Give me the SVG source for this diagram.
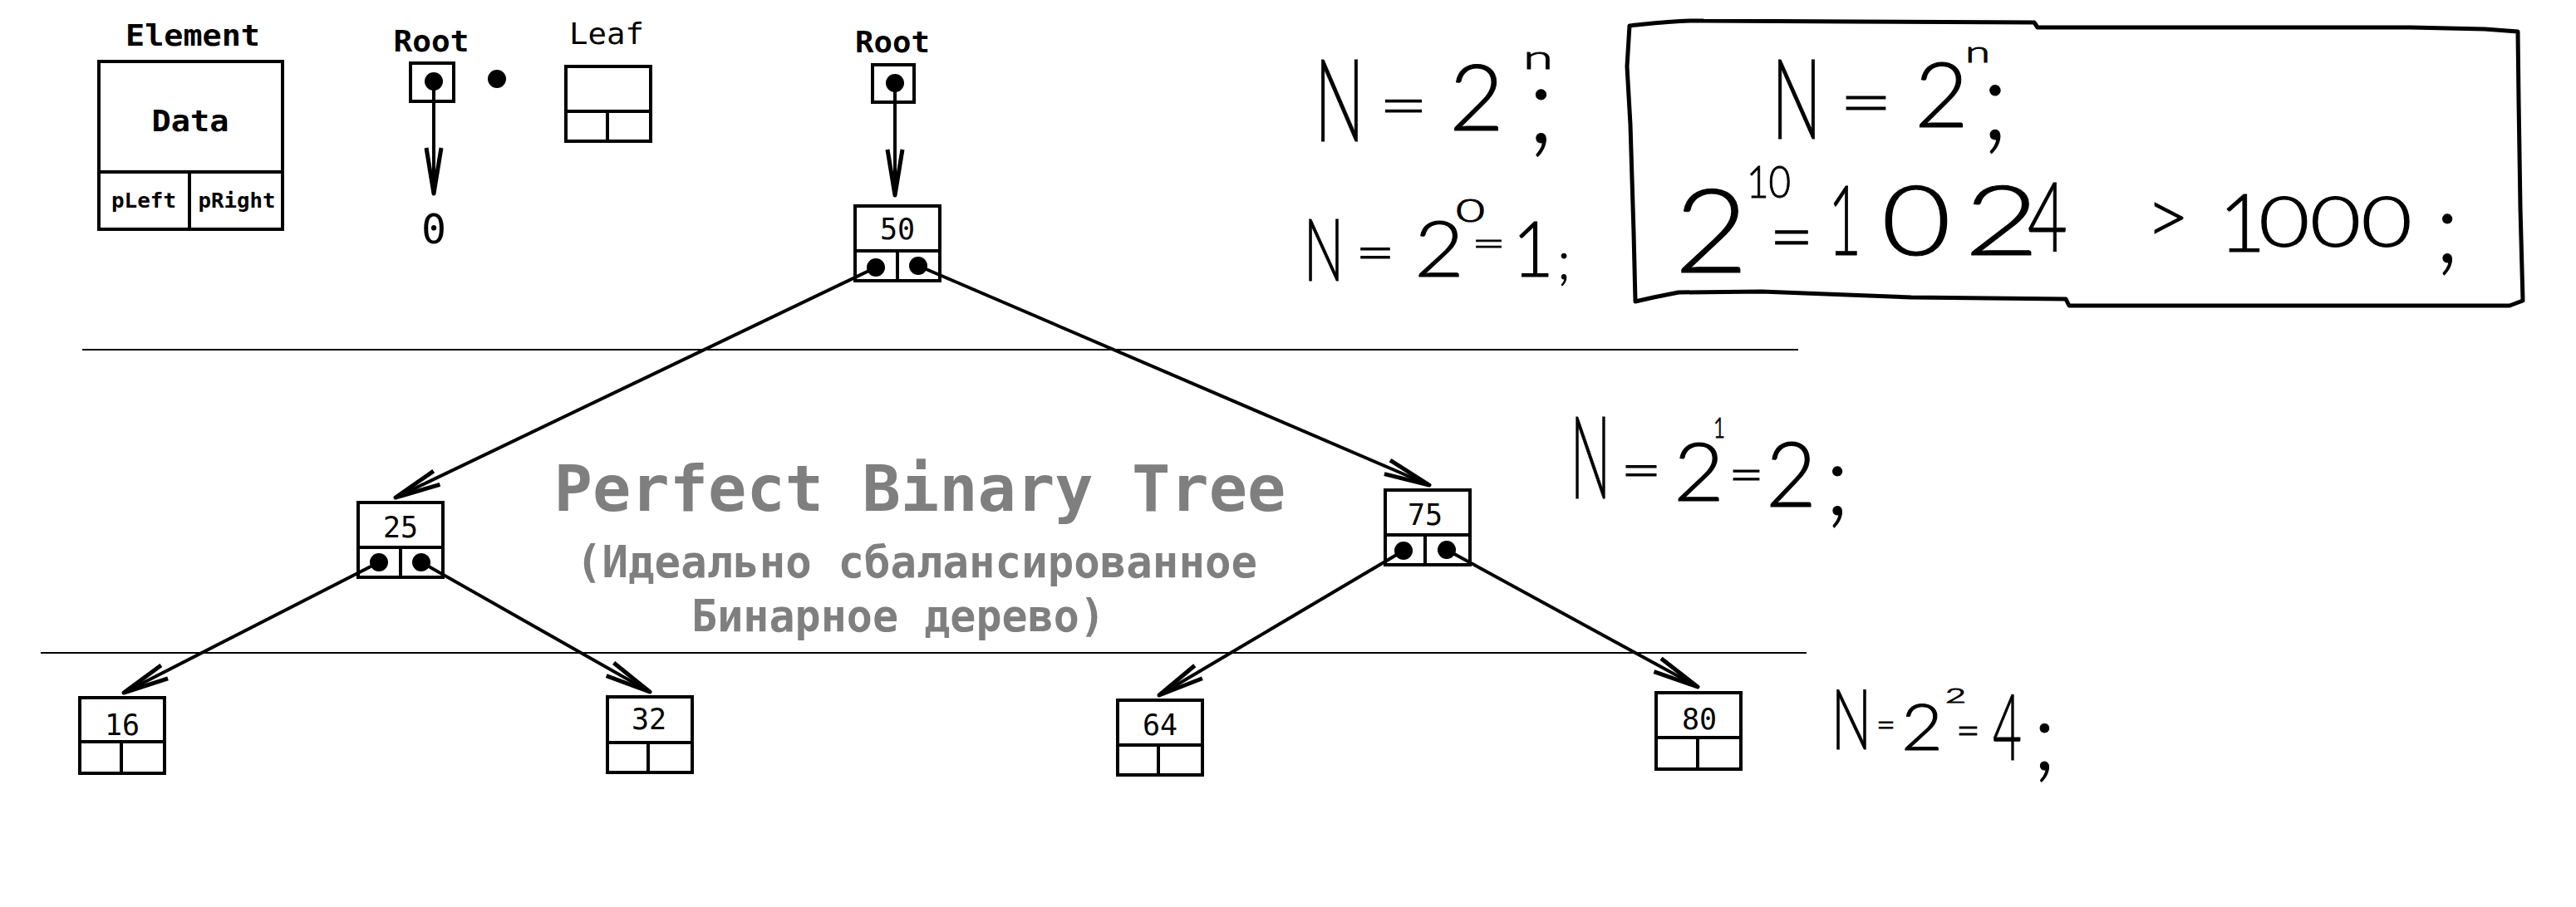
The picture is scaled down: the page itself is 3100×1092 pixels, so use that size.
<svg xmlns="http://www.w3.org/2000/svg" width="3100" height="1092" viewBox="0 0 3100 1092">
<style>
.bx{fill:#fff;stroke:#000;stroke-width:4}
.ln{fill:none;stroke:#000;stroke-width:4}
.sep{fill:none;stroke:#000;stroke-width:2}
.dot{fill:#000}
.lbl{font-family:"DejaVu Sans Mono","Liberation Mono",monospace;font-weight:bold;font-size:35px;text-anchor:middle;fill:#000}
.reg{font-family:"DejaVu Sans Mono","Liberation Mono",monospace;font-size:35px;text-anchor:middle;fill:#000}
.num{font-family:"DejaVu Sans Mono","Liberation Mono",monospace;font-size:35px;text-anchor:middle;fill:#000}
.title{font-family:"DejaVu Sans Mono","Liberation Mono",monospace;font-weight:bold;text-anchor:middle;fill:#7f7f7f}
.hand{font-family:Lato,"Liberation Sans",sans-serif;font-weight:300;fill:#000;stroke:#000;stroke-width:1}
</style>
<defs>
<marker id="ah" markerUnits="userSpaceOnUse" markerWidth="70" markerHeight="30" viewBox="-60 -15 70 30" refX="0" refY="0" orient="auto" overflow="visible">
<path d="M-55,-9 L0,0 L-55,9" fill="none" stroke="#000" stroke-width="5" stroke-linejoin="round"/>
</marker>
</defs>
<rect width="3100" height="1092" fill="#fff"/>

<g id="separators">
<line class="sep" x1="99" y1="421" x2="2164" y2="421"/>
<line class="sep" x1="49" y1="786" x2="2174" y2="786"/>
</g>

<g id="legend-element">
<text class="lbl" x="232" y="55" textLength="162" lengthAdjust="spacingAndGlyphs">Element</text>
<rect class="bx" x="119" y="74" width="221" height="202"/>
<line class="ln" x1="119" y1="207" x2="340" y2="207"/>
<line class="ln" x1="228" y1="207" x2="228" y2="276"/>
<text class="lbl" x="229" y="158" textLength="93" lengthAdjust="spacingAndGlyphs">Data</text>
<text class="lbl" x="173" y="250" style="font-size:25px" textLength="78" lengthAdjust="spacingAndGlyphs">pLeft</text>
<text class="lbl" x="285" y="250" style="font-size:25px" textLength="93" lengthAdjust="spacingAndGlyphs">pRight</text>
</g>

<g id="legend-root">
<text class="lbl" x="519" y="62" textLength="91" lengthAdjust="spacingAndGlyphs">Root</text>
<rect class="bx" x="494" y="76" width="52" height="46"/>
<circle class="dot" cx="522" cy="98" r="11"/>
<text class="reg" x="522" y="293" style="font-size:50px">0</text>
</g>

<g id="legend-dot">
<circle class="dot" cx="598" cy="95" r="11"/>
</g>

<g id="legend-leaf">
<text class="reg" x="730" y="53" textLength="90" lengthAdjust="spacingAndGlyphs">Leaf</text>
<rect class="bx" x="681" y="80" width="102" height="90"/>
<line class="ln" x1="681" y1="134" x2="783" y2="134"/>
<line class="ln" x1="731" y1="134" x2="731" y2="170"/>
</g>

<g id="root">
<text class="lbl" x="1074" y="63" textLength="90" lengthAdjust="spacingAndGlyphs">Root</text>
<rect class="bx" x="1050" y="78" width="50" height="45"/>
<circle class="dot" cx="1077" cy="100" r="11"/>
</g>

<g id="node-50">
<rect class="bx" x="1029" y="248" width="102" height="90"/>
<line class="ln" x1="1029" y1="302" x2="1131" y2="302"/>
<line class="ln" x1="1080" y1="302" x2="1080" y2="338"/>
<text class="num" x="1080" y="288">50</text>
<circle class="dot" cx="1054" cy="322" r="11"/>
<circle class="dot" cx="1105" cy="320" r="11"/>
</g>

<g id="node-25">
<rect class="bx" x="431" y="605" width="102" height="90"/>
<line class="ln" x1="431" y1="659" x2="533" y2="659"/>
<line class="ln" x1="482" y1="659" x2="482" y2="695"/>
<text class="num" x="482" y="647">25</text>
<circle class="dot" cx="456" cy="677" r="11"/>
<circle class="dot" cx="507" cy="677" r="11"/>
</g>

<g id="node-75">
<rect class="bx" x="1667" y="590" width="102" height="90"/>
<line class="ln" x1="1667" y1="644" x2="1769" y2="644"/>
<line class="ln" x1="1715" y1="644" x2="1715" y2="680"/>
<text class="num" x="1715" y="632">75</text>
<circle class="dot" cx="1689" cy="663" r="11"/>
<circle class="dot" cx="1741" cy="662" r="11"/>
</g>

<g id="node-16">
<rect class="bx" x="96" y="840" width="102" height="91"/>
<line class="ln" x1="96" y1="893" x2="198" y2="893"/>
<line class="ln" x1="146" y1="893" x2="146" y2="931"/>
<text class="num" x="147" y="885">16</text>
</g>

<g id="node-32">
<rect class="bx" x="731" y="839" width="102" height="91"/>
<line class="ln" x1="731" y1="894" x2="833" y2="894"/>
<line class="ln" x1="780" y1="894" x2="780" y2="930"/>
<text class="num" x="781" y="878">32</text>
</g>

<g id="node-64">
<rect class="bx" x="1345" y="843" width="102" height="90"/>
<line class="ln" x1="1345" y1="897" x2="1447" y2="897"/>
<line class="ln" x1="1394" y1="897" x2="1394" y2="933"/>
<text class="num" x="1396" y="885">64</text>
</g>

<g id="node-80">
<rect class="bx" x="1993" y="834" width="102" height="92"/>
<line class="ln" x1="1993" y1="888" x2="2095" y2="888"/>
<line class="ln" x1="2043" y1="888" x2="2043" y2="926"/>
<text class="num" x="2045" y="878">80</text>
</g>

<g id="connectors">
<line class="ln" x1="522" y1="98" x2="522" y2="233" marker-end="url(#ah)"/>
<line class="ln" x1="1077" y1="100" x2="1077" y2="235" marker-end="url(#ah)"/>
<line class="ln" x1="1054" y1="322" x2="476" y2="599" marker-end="url(#ah)"/>
<line class="ln" x1="1105" y1="320" x2="1720" y2="584" marker-end="url(#ah)"/>
<line class="ln" x1="456" y1="677" x2="149" y2="834" marker-end="url(#ah)"/>
<line class="ln" x1="507" y1="677" x2="782" y2="833" marker-end="url(#ah)"/>
<line class="ln" x1="1689" y1="663" x2="1395" y2="837" marker-end="url(#ah)"/>
<line class="ln" x1="1741" y1="662" x2="2043" y2="827" marker-end="url(#ah)"/>
</g>

<g id="title">
<text class="title" x="1107" y="615" style="font-size:77px">Perfect Binary Tree</text>
<text class="title" x="1103" y="695" style="font-size:54px" textLength="820" lengthAdjust="spacingAndGlyphs">(Идеально сбалансированное</text>
<text class="title" x="1081" y="760" style="font-size:54px" textLength="498" lengthAdjust="spacingAndGlyphs">Бинарное дерево)</text>
</g>

<g id="formula-n1">
<text class="hand"><tspan x="1582" y="170" font-size="139" textLength="60" lengthAdjust="spacingAndGlyphs">N</tspan><tspan x="1659" y="153" font-size="75" textLength="60" lengthAdjust="spacingAndGlyphs">=</tspan><tspan x="1744" y="157" font-size="110" textLength="66" lengthAdjust="spacingAndGlyphs">2</tspan><tspan x="1833" y="83" font-size="40" textLength="36" lengthAdjust="spacingAndGlyphs">n</tspan><tspan x="1838" y="172" font-size="132">;</tspan></text>
</g>

<g id="formula-n0">
<text class="hand"><tspan x="1569" y="338" font-size="104" textLength="48" lengthAdjust="spacingAndGlyphs">N</tspan><tspan x="1631" y="327" font-size="65" textLength="48" lengthAdjust="spacingAndGlyphs">=</tspan><tspan x="1702" y="333" font-size="92" textLength="60" lengthAdjust="spacingAndGlyphs">2</tspan><tspan x="1752" y="267" font-size="38" textLength="35" lengthAdjust="spacingAndGlyphs">0</tspan><tspan x="1771" y="309" font-size="48" textLength="41" lengthAdjust="spacingAndGlyphs">=</tspan><tspan x="1820" y="333" font-size="92" textLength="50" lengthAdjust="spacingAndGlyphs">1</tspan><tspan x="1874" y="336" font-size="64">;</tspan></text>
</g>

<g id="formula-box">
<path d="M1961,31 C1990,28 2020,24 2050,25 L2230,26 L2448,27 L2452,33 L2900,33 L2990,35 L3030,38 L3031,120 L3033,250 L3036,362 L3020,368 L2490,368 L2486,360 L2300,358 L2120,351 L2020,352 L1990,358 L1968,363 L1966,280 L1962,150 L1958,80 Z" fill="none" stroke="#000" stroke-width="5" stroke-linejoin="round"/>
<text class="hand"><tspan x="2132" y="167" font-size="135" textLength="60" lengthAdjust="spacingAndGlyphs">N</tspan><tspan x="2213" y="152" font-size="80" textLength="65" lengthAdjust="spacingAndGlyphs">=</tspan><tspan x="2304" y="153" font-size="108" textLength="65" lengthAdjust="spacingAndGlyphs">2</tspan><tspan x="2365" y="75" font-size="36" textLength="30" lengthAdjust="spacingAndGlyphs">n</tspan><tspan x="2384" y="168" font-size="135">;</tspan></text>
<text class="hand"><tspan x="2015" y="328" font-size="140" textLength="89" lengthAdjust="spacingAndGlyphs">2</tspan><tspan x="2102" y="238" font-size="53" textLength="53" lengthAdjust="spacingAndGlyphs">10</tspan><tspan x="2129" y="315" font-size="85" textLength="54" lengthAdjust="spacingAndGlyphs">=</tspan><tspan x="2200" y="307" font-size="117" textLength="40" lengthAdjust="spacingAndGlyphs">1</tspan><tspan x="2264" y="307" font-size="117" textLength="84" lengthAdjust="spacingAndGlyphs">0</tspan><tspan x="2364" y="307" font-size="117" textLength="90" lengthAdjust="spacingAndGlyphs">2</tspan><tspan x="2440" y="303" font-size="117" textLength="48" lengthAdjust="spacingAndGlyphs">4</tspan><tspan x="2558" y="293" font-size="90"> &gt;</tspan><tspan x="2644" y="303" font-size="97"> 1</tspan><tspan x="2718" y="297" font-size="84" textLength="185" lengthAdjust="spacingAndGlyphs">000</tspan><tspan x="2930" y="316" font-size="121">;</tspan></text>
</g>

<g id="formula-n2">
<text class="hand"><tspan x="1890" y="600" font-size="139" textLength="48" lengthAdjust="spacingAndGlyphs">N</tspan><tspan x="1950" y="589" font-size="65" textLength="50" lengthAdjust="spacingAndGlyphs">=</tspan><tspan x="2014" y="603" font-size="97" textLength="61" lengthAdjust="spacingAndGlyphs">2</tspan><tspan x="2062" y="527" font-size="33" textLength="14" lengthAdjust="spacingAndGlyphs">1</tspan><tspan x="2080" y="593" font-size="62" textLength="43" lengthAdjust="spacingAndGlyphs">=</tspan><tspan x="2125" y="610" font-size="108" textLength="61" lengthAdjust="spacingAndGlyphs">2</tspan><tspan x="2196" y="620" font-size="121">;</tspan></text>
</g>

<g id="formula-n4">
<text class="hand"><tspan x="2204" y="902" font-size="100" textLength="48" lengthAdjust="spacingAndGlyphs">N</tspan><tspan x="2258" y="887" font-size="42" textLength="23" lengthAdjust="spacingAndGlyphs">=</tspan><tspan x="2288" y="903" font-size="76" textLength="50" lengthAdjust="spacingAndGlyphs">2</tspan><tspan x="2341" y="846" font-size="24" textLength="25" lengthAdjust="spacingAndGlyphs">2</tspan><tspan x="2354" y="897" font-size="52" textLength="29" lengthAdjust="spacingAndGlyphs">=</tspan><tspan x="2398" y="915" font-size="110" textLength="35" lengthAdjust="spacingAndGlyphs">4</tspan><tspan x="2446" y="927" font-size="115">;</tspan></text>
</g>
</svg>
